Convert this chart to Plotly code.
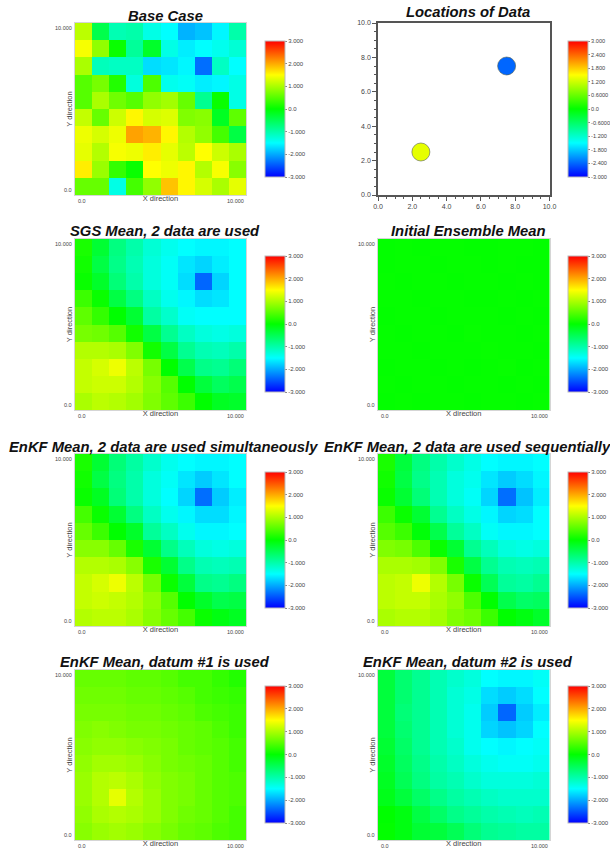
import plotly.graph_objects as go

W, H = 610, 850

TITLES = ["Base Case", "Locations of Data",
          "SGS Mean, 2 data are used", "Initial Ensemble Mean",
          "EnKF Mean, 2 data are used simultaneously", "EnKF Mean, 2 data are used sequentially",
          "EnKF Mean, datum #1 is used", "EnKF Mean, datum #2 is used"]

# rows are listed top (y=10) to bottom (y=0), columns left to right
BASE_CASE = [
    [1.1, -.45, -1.05, -1.0, -1.35, -1.5, -1.95, -1.85, -1.55, -1.0],
    [1.45, .85, .05, -.9, -.25, -1.35, -1.6, -1.5, -1.4, -1.25],
    [1.0, -1.1, -1.15, -1.15, -1.7, -1.65, -1.55, -2.35, -1.15, -1.5],
    [.5, .7, .2, -1.3, .45, -1.4, -1.45, -1.6, -1.55, -1.35],
    [.5, 1.0, .65, .5, .85, .95, .6, -.85, .05, -1.35],
    [1.15, .6, 1.2, 1.55, 1.25, 1.3, .75, .8, -.2, .55],
    [1.4, 1.25, 1.4, 2.05, 1.95, 1.55, 1.05, .85, .4, -.4],
    [1.35, 1.05, 1.45, 1.4, 1.6, 1.35, 1.1, 1.5, 1.2, 1.0],
    [1.6, .9, .3, .05, 1.5, 1.4, 1.55, 1.05, 1.45, .8],
    [.6, .6, -1.35, .4, .85, 1.85, 1.55, 1.25, 1.0, 1.35],
]
SGS_MEAN = [
    [.15, -.3, -.75, -1.0, -1.25, -1.4, -1.5, -1.55, -1.55, -1.5],
    [.1, -.4, -.8, -1.05, -1.3, -1.45, -1.65, -1.75, -1.6, -1.5],
    [.05, -.25, -.7, -1.0, -1.3, -1.45, -1.7, -2.4, -1.75, -1.5],
    [.35, .05, -.4, -.75, -1.15, -1.4, -1.55, -1.7, -1.65, -1.5],
    [.55, .3, 0, -.3, -.95, -1.2, -1.45, -1.5, -1.5, -1.5],
    [.7, .65, .5, .1, -.4, -.85, -1.15, -1.3, -1.35, -1.3],
    [1.05, 1.05, 1.0, .75, .1, -.4, -.85, -1.05, -1.1, -1.0],
    [1.15, 1.25, 1.4, 1.1, .7, 0, -.45, -.8, -.85, -.7],
    [1.15, 1.2, 1.2, 1.05, .8, .5, 0, -.35, -.55, -.45],
    [1.0, 1.1, 1.05, .95, .75, .55, .35, 0, -.2, -.25],
]
INITIAL_MEAN = [
    [.02, .03, .02, .03, .03, .02, .02, .03, .03, .02],
    [.02, .03, .03, .02, .03, .03, .02, .03, .02, .02],
    [.03, .02, .03, .03, .02, .03, .03, .02, .03, .02],
    [.03, .03, .02, .03, .03, .02, .02, .03, .02, .03],
    [.02, .03, .03, .02, .03, .03, .03, .02, .03, .02],
    [.03, .02, .03, .03, .02, .04, .03, .03, .02, .03],
    [.03, .03, .02, .03, .03, .03, .04, .03, .03, .02],
    [.02, .03, .03, .02, .03, .02, .03, .04, .02, .03],
    [.03, .02, .03, .03, .02, .03, .03, .02, .03, .02],
    [.02, .03, .02, .03, .03, .02, .03, .03, .02, .03],
]
ENKF_SIMULT = [
    [.15, -.3, -.7, -.95, -1.2, -1.4, -1.5, -1.55, -1.55, -1.5],
    [.1, -.4, -.75, -1.0, -1.3, -1.45, -1.65, -1.8, -1.65, -1.5],
    [.05, -.2, -.7, -1.0, -1.3, -1.5, -1.75, -2.35, -1.8, -1.6],
    [.4, .05, -.3, -.75, -1.15, -1.4, -1.55, -1.7, -1.7, -1.55],
    [.6, .35, 0, -.25, -.9, -1.15, -1.4, -1.55, -1.55, -1.5],
    [.8, .8, .6, .15, -.3, -.8, -1.1, -1.3, -1.35, -1.3],
    [1.05, 1.05, 1.0, .8, .15, -.3, -.8, -1.05, -1.1, -1.05],
    [1.15, 1.25, 1.4, 1.1, .7, .05, -.35, -.8, -.85, -.75],
    [1.15, 1.2, 1.15, 1.05, .85, .5, 0, -.25, -.45, -.4],
    [1.05, 1.1, 1.1, 1.0, .8, .6, .4, .05, -.1, -.2],
]
ENKF_SEQ = [
    [.15, -.35, -.75, -1.0, -1.2, -1.35, -1.5, -1.55, -1.55, -1.5],
    [.1, -.4, -.8, -1.05, -1.3, -1.4, -1.65, -1.8, -1.7, -1.55],
    [.05, -.3, -.7, -1.05, -1.3, -1.45, -1.75, -2.35, -1.85, -1.6],
    [.35, .05, -.3, -.85, -1.15, -1.35, -1.55, -1.75, -1.7, -1.5],
    [.5, .35, -.05, -.45, -.9, -1.15, -1.45, -1.55, -1.55, -1.5],
    [.75, .7, .45, .05, -.3, -.85, -1.1, -1.3, -1.35, -1.3],
    [1.0, 1.0, .95, .75, .15, -.4, -.85, -1.05, -1.1, -1.05],
    [1.1, 1.15, 1.4, 1.05, .7, .05, -.5, -.9, -.95, -.85],
    [1.1, 1.15, 1.15, 1.0, .85, .45, 0, -.45, -.6, -.55],
    [1.0, 1.05, 1.05, .95, .75, .65, .35, 0, -.1, -.25],
]
DATUM_1 = [
    [.6, .6, .6, .55, .55, .5, .4, .4, .3, .2],
    [.65, .65, .65, .6, .6, .55, .5, .4, .35, .3],
    [.7, .7, .7, .65, .65, .6, .55, .45, .4, .35],
    [.75, .8, .75, .7, .7, .65, .6, .55, .45, .35],
    [.8, .85, .85, .8, .75, .7, .6, .55, .5, .4],
    [.85, .95, .95, .9, .8, .7, .65, .6, .5, .4],
    [.9, 1.05, 1.1, 1.0, .85, .75, .7, .6, .5, .45],
    [.9, 1.05, 1.35, 1.05, .9, .75, .7, .6, .5, .45],
    [.85, 1.0, 1.05, 1.0, .9, .75, .65, .6, .5, .4],
    [.8, .9, .95, .9, .8, .7, .6, .55, .45, .4],
]
DATUM_2 = [
    [-.35, -.65, -.85, -1.05, -1.2, -1.3, -1.5, -1.55, -1.55, -1.45],
    [-.35, -.65, -.85, -1.05, -1.25, -1.35, -1.7, -1.8, -1.7, -1.5],
    [-.35, -.7, -.85, -1.05, -1.25, -1.4, -1.8, -2.4, -1.8, -1.6],
    [-.35, -.65, -.85, -1.05, -1.25, -1.4, -1.75, -1.85, -1.75, -1.5],
    [-.3, -.6, -.85, -1.05, -1.2, -1.4, -1.5, -1.55, -1.5, -1.45],
    [-.25, -.55, -.8, -1.0, -1.15, -1.3, -1.4, -1.45, -1.45, -1.4],
    [-.2, -.5, -.75, -.95, -1.05, -1.2, -1.3, -1.3, -1.3, -1.25],
    [-.15, -.35, -.6, -.8, -.95, -1.05, -1.15, -1.2, -1.2, -1.2],
    [0, -.1, -.4, -.6, -.8, -.9, -1.0, -1.05, -1.1, -1.05],
    [.02, -.1, -.3, -.35, -.5, -.7, -.85, -.9, -.95, -.95],
]
DATA_X = [2.5, 7.5]
DATA_Y = [2.5, 7.5]
DATA_VALUE = [1.35, -2.4]

GRID_X = [.5, 1.5, 2.5, 3.5, 4.5, 5.5, 6.5, 7.5, 8.5, 9.5]
GRID_Y = [9.5, 8.5, 7.5, 6.5, 5.5, 4.5, 3.5, 2.5, 1.5, .5]

CB_VALS = [3, 2, 1, 0, -1, -2, -3]
CB_TEXT = ["3.000", "2.000", "1.000", "0.0", "-1.000", "-2.000", "-3.000"]
CB2_VALS = [3, 2.4, 1.8, 1.2, .6, 0, -.6, -1.2, -1.8, -2.4, -3]
CB2_TEXT = ["3.000", "2.400", "1.800", "1.200", "0.6000", "0.0", "-0.6000",
            "-1.200", "-1.800", "-2.400", "-3.000"]

SCALE = [[0, "rgb(0,0,255)"], [.25, "rgb(0,255,255)"], [.5, "rgb(0,255,0)"],
         [.75, "rgb(255,255,0)"], [1, "rgb(255,0,0)"]]
FONT = "Liberation Sans, Arial, sans-serif"
TEXT_COL = "#444444"

# pixel boxes: x0, x1, y0, y1 of plot; y0, y1 of colorbar
COLS = [(75, 246, 265, 285), (378, 549.5, 568, 588)]
ROWS = [(23, 195, 41, 177), (239, 410, 256, 392), (454, 626, 472, 608), (670, 840, 686, 823)]
TITLE_POS = [(165, 16), (468, 12), (165, 231), (468, 231),
             (163.5, 447), (467, 447), (165, 662), (468, 662)]
FIELDS = [BASE_CASE, None, SGS_MEAN, INITIAL_MEAN, ENKF_SIMULT, ENKF_SEQ, DATUM_1, DATUM_2]

fig = go.Figure()
layout = {}
annotations = []


def px(x):
    return x / W


def py(y):
    return 1 - y / H


for i, field in enumerate(FIELDS):
    col = COLS[i % 2]
    row = ROWS[i // 2]
    suffix = "" if i == 0 else str(i + 1)
    xa, ya = "x" + suffix, "y" + suffix
    cbar = dict(
        x=px(col[2]), xanchor="left", xpad=0,
        y=py(row[3]), yanchor="bottom", ypad=0,
        len=(row[3] - row[2]) / H, lenmode="fraction",
        thickness=col[3] - col[2], thicknessmode="pixels",
        tickmode="array",
        tickvals=CB2_VALS if field is None else CB_VALS,
        ticktext=CB2_TEXT if field is None else CB_TEXT,
        ticks="outside", ticklen=2, tickcolor="#888888", tickwidth=1,
        tickfont=dict(size=5.6 if field is None else 6, family=FONT, color=TEXT_COL),
        outlinecolor="#bbbbbb", outlinewidth=1,
    )
    axis_common = dict(range=[0, 10], showgrid=False, zeroline=False)
    if field is None:
        fig.add_trace(go.Scatter(
            x=DATA_X, y=DATA_Y, mode="markers", xaxis=xa, yaxis=ya, showlegend=False,
            marker=dict(color=DATA_VALUE, cmin=-3, cmax=3, colorscale=SCALE, size=18,
                        line=dict(width=1, color="rgba(90,100,80,0.6)"),
                        showscale=True, colorbar=cbar),
        ))
        frame = dict(showline=True, linecolor="#555555", linewidth=1.5, mirror=True,
                     tickmode="array", tickvals=[0, 2, 4, 6, 8, 10],
                     ticktext=["0.0", "2.0", "4.0", "6.0", "8.0", "10.0"],
                     ticks="outside", ticklen=4, tickwidth=1, tickcolor="#555555",
                     minor=dict(dtick=.5, ticks="outside", ticklen=2, tickcolor="#555555"),
                     tickfont=dict(size=7, family=FONT, color=TEXT_COL))
        x_extra = dict(frame)
        y_extra = dict(frame)
    else:
        fig.add_trace(go.Heatmap(
            z=field, x=GRID_X, y=GRID_Y, xaxis=xa, yaxis=ya, zmin=-3, zmax=3,
            colorscale=SCALE, colorbar=cbar, zsmooth=False,
        ))
        edge = dict(showline=True, linecolor="#d5d5d5", linewidth=1, mirror=True,
                    ticks="", showticklabels=False)
        x_extra = dict(edge, title=dict(text="X direction", standoff=0,
                                        font=dict(size=7.5, family=FONT, color=TEXT_COL)))
        y_extra = dict(edge, title=dict(text="Y direction", standoff=0,
                                        font=dict(size=7.5, family=FONT, color=TEXT_COL)))
        small = dict(size=5.5, family=FONT, color=TEXT_COL)
        xdom, ydom = xa + " domain", ya + " domain"
        annotations += [
            dict(text="0.0", xref=xa, x=0, yref=ydom, y=0, xanchor="left", yanchor="top",
                 xshift=1, yshift=-1, showarrow=False, font=small),
            dict(text="10.000", xref=xa, x=10, yref=ydom, y=0, xanchor="right", yanchor="top",
                 yshift=-1, showarrow=False, font=small),
            dict(text="0.0", xref=xdom, x=0, yref=ya, y=0, xanchor="right", yanchor="bottom",
                 xshift=-1, showarrow=False, font=small),
            dict(text="10.000", xref=xdom, x=0, yref=ya, y=10, xanchor="right", yanchor="top",
                 xshift=-1, showarrow=False, font=small),
        ]
    layout["xaxis" + suffix] = dict(axis_common, domain=[px(col[0]), px(col[1])],
                                    anchor=ya, **x_extra)
    layout["yaxis" + suffix] = dict(axis_common, domain=[py(row[1]), py(row[0])],
                                    anchor=xa, **y_extra)
    tx, ty = TITLE_POS[i]
    annotations.append(dict(
        text="<b><i>%s</i></b>" % TITLES[i], xref="paper", yref="paper",
        x=px(tx), y=py(ty), xanchor="center", yanchor="middle", showarrow=False,
        font=dict(size=14.8, family=FONT, color="#111111"),
    ))

fig.update_layout(width=W, height=H, margin=dict(l=0, r=0, t=0, b=0, autoexpand=False),
                  paper_bgcolor="white", plot_bgcolor="white",
                  annotations=annotations, **layout)
fig.write_html("out.html", config={"displayModeBar": False},
               post_script="document.body.style.margin='0';document.body.style.overflow='hidden';")
